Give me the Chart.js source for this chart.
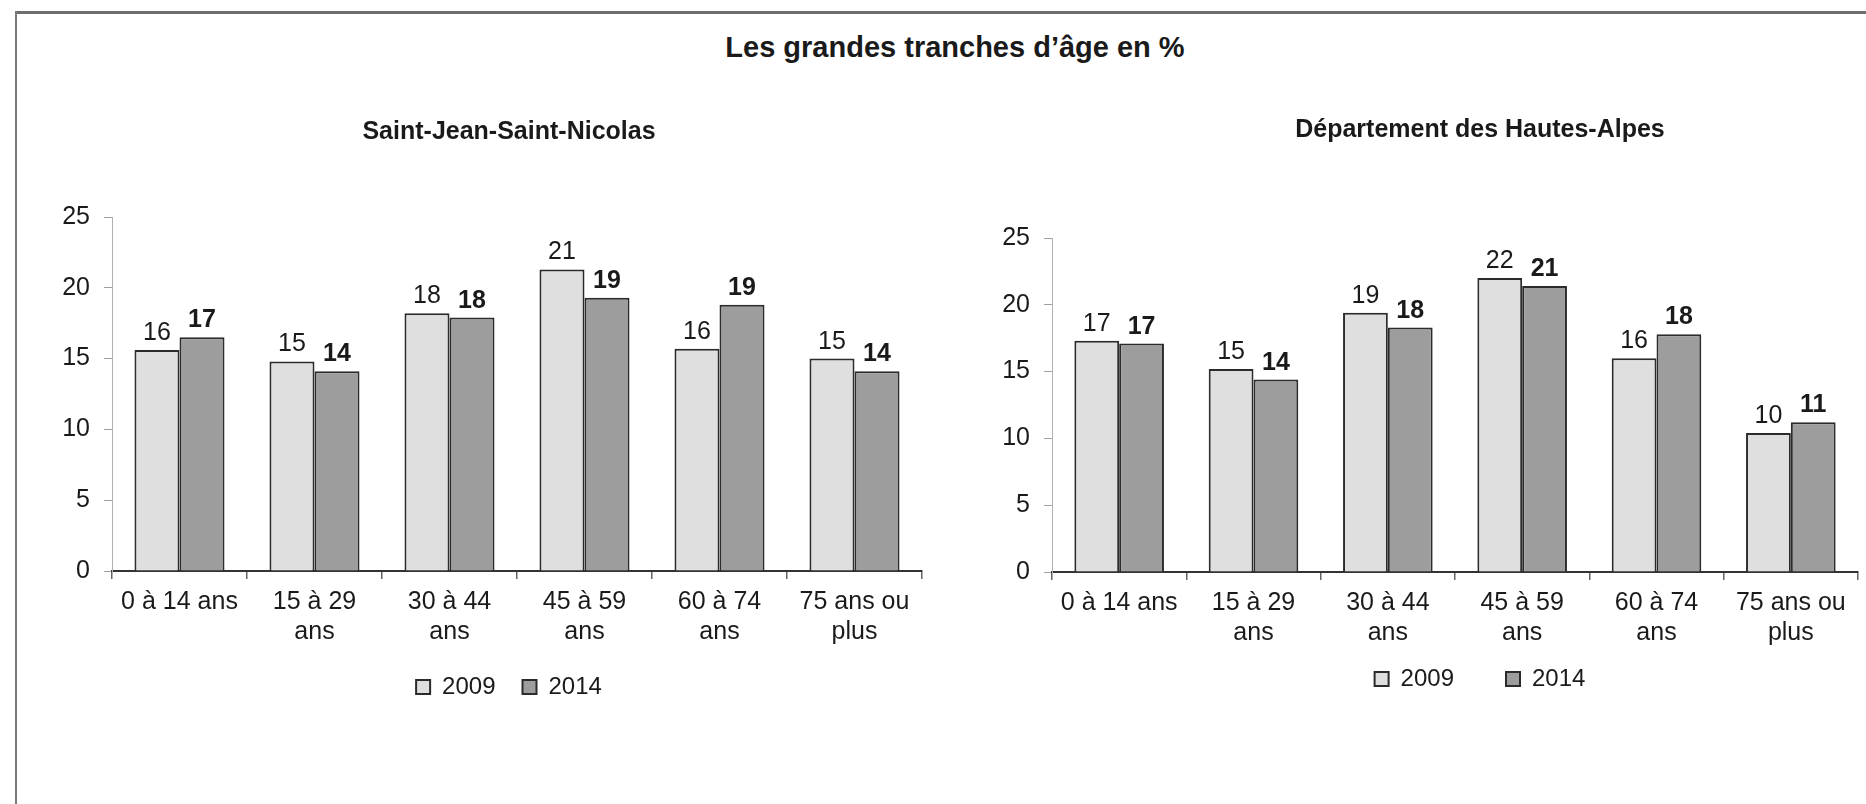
<!DOCTYPE html>
<html lang="fr">
  <head>
    <meta charset="UTF-8" />
    <title>Les grandes tranches d'âge en %</title>
    <script src="https://cdn.jsdelivr.net/npm/chart.js"></script>
    <style>
      body {
        margin: 0;
        background: #fff;
        overflow: hidden;
      }
      #page {
        position: relative;
        width: 1866px;
        height: 804px;
        overflow: hidden;
        font-family: "Liberation Sans", Arial, sans-serif;
        color: #1a1a1a;
      }
      .frame-top {
        position: absolute;
        left: 15px;
        right: 0;
        top: 11px;
        height: 3px;
        background: #6e6e6e;
      }
      .frame-left {
        position: absolute;
        left: 15px;
        top: 11px;
        bottom: 0;
        width: 2px;
        background: #7a7a7a;
      }
      h1 {
        position: absolute;
        left: 555px;
        width: 800px;
        top: 30px;
        margin: 0;
        text-align: center;
        font-size: 29px;
        line-height: 34px;
        font-weight: bold;
      }
      canvas {
        position: absolute;
        top: 0;
      }
      #chartLeft {
        left: 0;
      }
      #chartRight {
        left: 933px;
      }
    </style>
  </head>
  <body>
    <div id="page">
      <div class="frame-top"></div>
      <div class="frame-left"></div>
      <h1>Les grandes tranches d’âge en %</h1>
      <canvas id="chartLeft" width="1018" height="804"></canvas>
      <canvas id="chartRight" width="1094" height="804"></canvas>
    </div>

    <script>
      const ageGroups = [
        ["0 à 14 ans"],
        ["15 à 29", "ans"],
        ["30 à 44", "ans"],
        ["45 à 59", "ans"],
        ["60 à 74", "ans"],
        ["75 ans ou", "plus"],
      ];
      const years = ["2009", "2014"];
      const yTicks = [0, 5, 10, 15, 20, 25];

      // Saint-Jean-Saint-Nicolas
      const commune2009 = [15.6, 14.8, 18.2, 21.3, 15.7, 15.0];
      const commune2014 = [16.5, 14.1, 17.9, 19.3, 18.8, 14.1];

      // Département des Hautes-Alpes
      const dept2009 = [17.3, 15.2, 19.4, 22.0, 16.0, 10.4];
      const dept2014 = [17.1, 14.4, 18.3, 21.4, 17.8, 11.2];

      const FONT = '"Liberation Sans", Arial, sans-serif';
      Chart.defaults.font.family = FONT;
      Chart.defaults.color = "#1a1a1a";

      // valeurs au-dessus des barres (2014 en gras)
      const barLabels = {
        id: "barLabels",
        afterDatasetsDraw(chart) {
          const ctx = chart.ctx;
          chart.data.datasets.forEach((ds, i) => {
            const meta = chart.getDatasetMeta(i);
            ctx.save();
            ctx.font = (i === 1 ? "bold " : "") + "25px " + FONT;
            ctx.fillStyle = "#1a1a1a";
            ctx.textAlign = "center";
            ctx.textBaseline = "alphabetic";
            meta.data.forEach((bar, j) => {
              ctx.fillText(Math.round(ds.data[j]), bar.x, bar.y - 10);
            });
            ctx.restore();
          });
        },
      };

      // décale la légende verticalement (son padding sert aussi à l'écart horizontal)
      const legendShift = {
        id: "legendShift",
        afterLayout(chart, args, opts) {
          const lg = chart.legend;
          if (lg && opts.dy) {
            lg.top += opts.dy;
            lg.bottom += opts.dy;
          }
        },
      };

      function makeChart(id, opts) {
        return new Chart(document.getElementById(id), {
          type: "bar",
          data: {
            labels: ageGroups,
            datasets: [
              {
                label: years[0],
                data: opts.v2009,
                backgroundColor: "#dfdfdf",
                borderColor: "#2b2b2b",
                borderWidth: 2,
                categoryPercentage: 0.667,
                barPercentage: 1,
              },
              {
                label: years[1],
                data: opts.v2014,
                backgroundColor: "#9d9d9d",
                borderColor: "#2b2b2b",
                borderWidth: 2,
                categoryPercentage: 0.667,
                barPercentage: 1,
              },
            ],
          },
          options: {
            responsive: false,
            animation: false,
            layout: { padding: { left: 0, right: 0, top: 0, bottom: opts.padBottom } },
            plugins: {
              tooltip: { enabled: false },
              title: {
                display: true,
                text: opts.title,
                font: { size: 25, weight: "bold" },
                color: "#1a1a1a",
                padding: { top: opts.titleTop, bottom: opts.titleBottom },
              },
              legend: {
                position: "bottom",
                labels: {
                  font: { size: 24 },
                  boxWidth: 14,
                  boxHeight: 14,
                  padding: opts.legendPad,
                  color: "#1a1a1a",
                },
              },
              legendShift: { dy: opts.legendDy },
            },
            scales: {
              x: {
                grid: {
                  drawOnChartArea: false,
                  tickLength: 8,
                  color: "#666",
                  lineWidth: 1.5,
                },
                border: { color: "#333", width: 2 },
                ticks: {
                  font: { size: 25 },
                  padding: 8,
                  maxRotation: 0,
                  autoSkip: false,
                  color: "#1a1a1a",
                },
                afterFit: (s) => {
                  s.height = 75;
                },
              },
              y: {
                min: 0,
                max: 25,
                afterBuildTicks: (s) => {
                  s.ticks = yTicks.map((v) => ({ value: v }));
                },
                grid: {
                  drawOnChartArea: false,
                  tickLength: 8,
                  color: "#a0a0a0",
                },
                border: { color: "#b0b0b0", width: 1 },
                ticks: { font: { size: 25 }, padding: 14, color: "#1a1a1a" },
                afterFit: (s) => {
                  s.width = opts.yWidth;
                },
              },
              // axe vide à droite pour centrer titre et légende comme l'original
              pad: {
                type: "linear",
                position: "right",
                display: true,
                grid: { display: false },
                border: { display: false },
                ticks: { display: false },
                afterFit: (s) => {
                  s.width = opts.rightPad;
                },
              },
            },
          },
          plugins: [barLabels, legendShift],
        });
      }

      makeChart("chartLeft", {
        title: "Saint-Jean-Saint-Nicolas",
        v2009: commune2009,
        v2014: commune2014,
        titleTop: 117,
        titleBottom: 70,
        yWidth: 112,
        rightPad: 96,
        legendPad: 27,
        legendDy: 2,
        padBottom: 97,
      });

      makeChart("chartRight", {
        title: "Département des Hautes-Alpes",
        v2009: dept2009,
        v2014: dept2014,
        titleTop: 115,
        titleBottom: 93,
        yWidth: 119,
        rightPad: 169,
        legendPad: 52,
        legendDy: -32,
        padBottom: 71,
      });
    </script>
  </body>
</html>
